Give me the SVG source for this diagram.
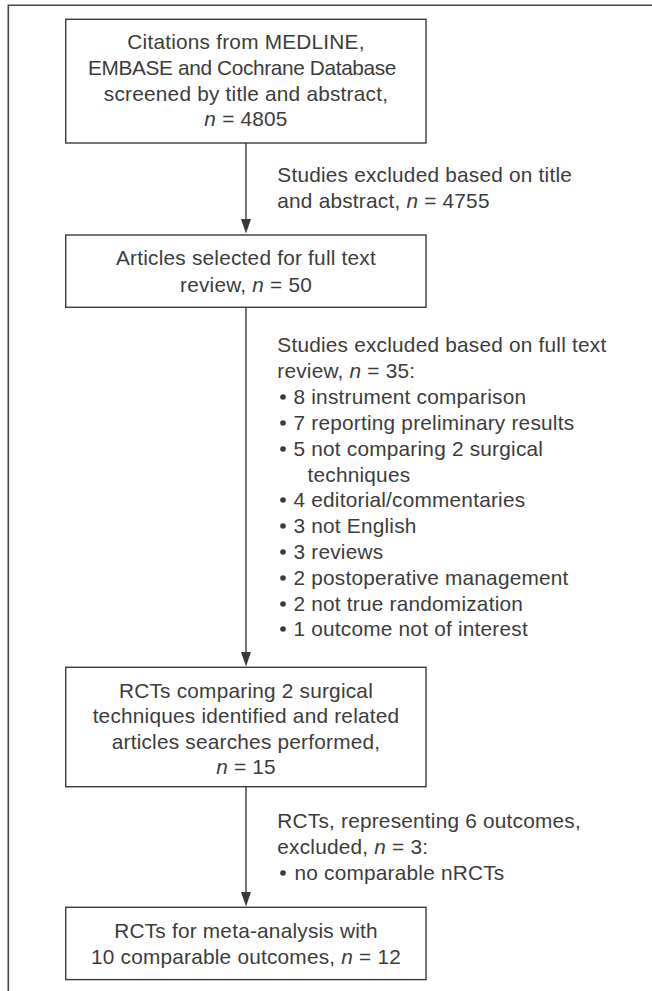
<svg xmlns="http://www.w3.org/2000/svg" width="652" height="991" viewBox="0 0 652 991">
<defs>
<style>
.box{fill:#fff;stroke:#3a3a3a;stroke-width:1.4}
.t{font-family:"Liberation Sans",Arial,sans-serif;font-size:20.8px;letter-spacing:0.22px;fill:#3c3c3c}
.c{text-anchor:middle}
.tight{letter-spacing:-0.35px}
.con{stroke:#3a3a3a;stroke-width:1.4;fill:none}
.frame{stroke:#444;stroke-width:1.6;fill:none}
.dot{fill:#3a3a3a}
</style>
</defs>
<rect width="652" height="991" fill="#fff"/>
<path class="frame" d="M8.3,991 L8.3,5.3 L652,5.3"/>
<g id="connectors">
<line class="con" x1="246" y1="143" x2="246" y2="222"/>
<line class="con" x1="246" y1="307" x2="246" y2="655"/>
<line class="con" x1="246" y1="787" x2="246" y2="895"/>
<path d="M241,219 L251,219 L246,233.5 Z" class="dot"/>
<path d="M241,652 L251,652 L246,666.5 Z" class="dot"/>
<path d="M241,892 L251,892 L246,906.5 Z" class="dot"/>
</g>
<g id="n1">
<rect class="box" x="65.7" y="19.3" width="360.3" height="123.7"/>
<text class="t c" x="246" y="49.3">Citations from MEDLINE,</text>
<text class="t c tight" x="242" y="75">EMBASE and Cochrane Database</text>
<text class="t c" x="246" y="100.5">screened by title and abstract,</text>
<text class="t c" x="246" y="126"><tspan font-style="italic">n</tspan> = 4805</text>
</g>
<g id="e1">
<text class="t" x="277.3" y="181.7">Studies excluded based on title</text>
<text class="t" x="277.3" y="207.7">and abstract, <tspan font-style="italic">n</tspan> = 4755</text>
</g>
<g id="n2">
<rect class="box" x="65.7" y="235" width="360.3" height="72.3"/>
<text class="t c" x="246" y="265">Articles selected for full text</text>
<text class="t c" x="246" y="291.5">review, <tspan font-style="italic">n</tspan> = 50</text>
</g>
<g id="e2">
<text class="t" x="277.3" y="352">Studies excluded based on full text</text>
<text class="t" x="277.3" y="378">review, <tspan font-style="italic">n</tspan> = 35:</text>
<circle class="dot" cx="283" cy="397" r="2.8"/>
<text class="t" x="293.5" y="404">8 instrument comparison</text>
<circle class="dot" cx="283" cy="423" r="2.8"/>
<text class="t" x="293.5" y="430">7 reporting preliminary results</text>
<circle class="dot" cx="283" cy="449" r="2.8"/>
<text class="t" x="293.5" y="456">5 not comparing 2 surgical</text>
<text class="t" x="307.5" y="481.7">techniques</text>
<circle class="dot" cx="283" cy="500" r="2.8"/>
<text class="t" x="293.5" y="507.3">4 editorial/commentaries</text>
<circle class="dot" cx="283" cy="526" r="2.8"/>
<text class="t" x="293.5" y="533">3 not English</text>
<circle class="dot" cx="283" cy="552" r="2.8"/>
<text class="t" x="293.5" y="559">3 reviews</text>
<circle class="dot" cx="283" cy="578" r="2.8"/>
<text class="t" x="293.5" y="585">2 postoperative management</text>
<circle class="dot" cx="283" cy="604" r="2.8"/>
<text class="t" x="293.5" y="610.7">2 not true randomization</text>
<circle class="dot" cx="283" cy="629" r="2.8"/>
<text class="t" x="293.5" y="636">1 outcome not of interest</text>
</g>
<g id="n3">
<rect class="box" x="65.7" y="667.3" width="360.3" height="119.4"/>
<text class="t c" x="246" y="698.3">RCTs comparing 2 surgical</text>
<text class="t c" x="246" y="723">techniques identified and related</text>
<text class="t c" x="246" y="748.5">articles searches performed,</text>
<text class="t c" x="246" y="774"><tspan font-style="italic">n</tspan> = 15</text>
</g>
<g id="e3">
<text class="t" x="277.3" y="828">RCTs, representing 6 outcomes,</text>
<text class="t" x="277.3" y="853.7">excluded, <tspan font-style="italic">n</tspan> = 3:</text>
<circle class="dot" cx="283" cy="873" r="2.8"/>
<text class="t" x="294.5" y="879.5">no comparable nRCTs</text>
</g>
<g id="n4">
<rect class="box" x="65.7" y="907.3" width="360.3" height="72.3"/>
<text class="t c" x="246" y="937.5">RCTs for meta-analysis with</text>
<text class="t c" x="246" y="963.5">10 comparable outcomes, <tspan font-style="italic">n</tspan> = 12</text>
</g>
</svg>
